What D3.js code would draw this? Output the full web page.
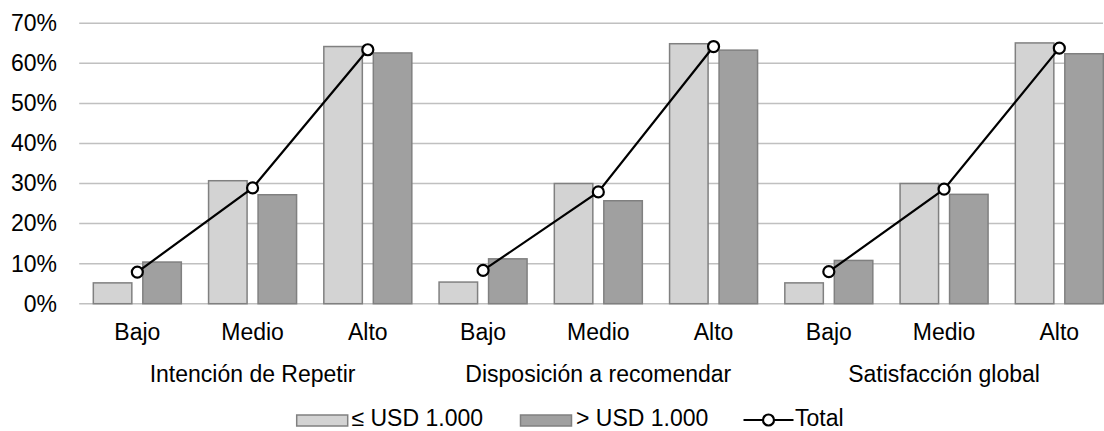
<!DOCTYPE html>
<html>
<head>
<meta charset="utf-8">
<script src="https://cdn.jsdelivr.net/npm/d3@7"></script>
<style>
  body { margin: 0; background: #fff; }
  svg { display: block; font-family: "Liberation Sans", Arial, sans-serif; }
</style>
</head>
<body>
<svg id="chart" width="1104" height="431"></svg>
<script>
const groups = ["Intención de Repetir", "Disposición a recomendar", "Satisfacción global"];
const levels = ["Bajo", "Medio", "Alto"];
const seriesNames = ["≤ USD 1.000", "> USD 1.000", "Total"];
// values in %, per group, per level
const lowSpend  = [[5.2, 30.7, 64.2], [5.4, 30.0, 64.9], [5.2, 30.0, 65.1]];
const highSpend = [[10.4, 27.2, 62.6], [11.2, 25.7, 63.3], [10.8, 27.3, 62.4]];
const totalVals = [[7.9, 28.9, 63.4], [8.3, 27.9, 64.2], [8.0, 28.6, 63.8]];
const yTicks = [0, 10, 20, 30, 40, 50, 60, 70];

const svg = d3.select("#chart");
const fs = 23;
const plotLeft = 79.2, plotRight = 1103;
const step = 115.25;

const cats = [];
groups.forEach((g, gi) => levels.forEach((l, li) => cats.push({ key: gi + "-" + li, gi, li, level: l })));

const x0 = d3.scaleBand()
  .domain(cats.map(c => c.key))
  .range([plotLeft + 0.5, plotLeft + 0.5 + step * cats.length])
  .paddingInner(0.2364)
  .paddingOuter(0.1182);
const x1 = d3.scaleBand()
  .domain([0, 1])
  .range([0, x0.bandwidth()])
  .paddingInner(0.222);
const y = d3.scaleLinear().domain([0, 70]).range([303.7, 23.3]);

// gridlines
svg.append("g").selectAll("line").data(yTicks).join("line")
  .attr("x1", plotLeft).attr("x2", plotRight)
  .attr("y1", d => y(d)).attr("y2", d => y(d))
  .attr("stroke", "#c0c0c0").attr("stroke-width", 1.5);

// y axis labels
const yAxis = d3.axisLeft(y).tickValues(yTicks).tickFormat(d => d + "%").tickSize(0).tickPadding(0);
const ya = svg.append("g").attr("transform", "translate(57,0)").call(yAxis);
ya.select(".domain").remove();
ya.selectAll("text").attr("font-size", fs).attr("fill", "#000")
  .attr("font-family", "'Liberation Sans', Arial, sans-serif");

// bars
const fills = ["#d3d3d3", "#a0a0a0"];
const barData = [];
cats.forEach(c => {
  barData.push({ c, s: 0, v: lowSpend[c.gi][c.li] });
  barData.push({ c, s: 1, v: highSpend[c.gi][c.li] });
});
svg.append("g").selectAll("rect").data(barData).join("rect")
  .attr("x", d => x0(d.c.key) + x1(d.s))
  .attr("width", x1.bandwidth())
  .attr("y", d => y(d.v))
  .attr("height", d => y(0) - y(d.v))
  .attr("fill", d => fills[d.s])
  .attr("stroke", "#808080").attr("stroke-width", 1.5);

// total line per group
const cx = c => x0(c.key) + x0.bandwidth() / 2;
const line = d3.line().x(d => cx(d.c)).y(d => y(d.v));
groups.forEach((g, gi) => {
  const pts = cats.filter(c => c.gi === gi).map(c => ({ c, v: totalVals[gi][c.li] }));
  svg.append("path").datum(pts).attr("d", line)
    .attr("fill", "none").attr("stroke", "#000").attr("stroke-width", 2.2);
  svg.append("g").selectAll("circle").data(pts).join("circle")
    .attr("cx", d => cx(d.c)).attr("cy", d => y(d.v)).attr("r", 5.5)
    .attr("fill", "#fff").attr("stroke", "#000").attr("stroke-width", 2.2);
});

// category labels
svg.append("g").selectAll("text").data(cats).join("text")
  .attr("x", d => cx(d)).attr("y", 340)
  .attr("text-anchor", "middle").attr("font-size", fs).attr("fill", "#000")
  .text(d => d.level);

// group labels
svg.append("g").selectAll("text").data(groups).join("text")
  .attr("x", (g, gi) => cx(cats[gi * 3 + 1])).attr("y", 381.5)
  .attr("text-anchor", "middle").attr("font-size", fs).attr("fill", "#000")
  .text(d => d);

// legend
const lg = svg.append("g");
const legendItems = [
  { type: "rect", fill: fills[0], x: 296.7, tx: 351.5 },
  { type: "rect", fill: fills[1], x: 520.5, tx: 576 },
  { type: "line", x: 743.5, tx: 795 }
];
legendItems.forEach((it, i) => {
  if (it.type === "rect") {
    lg.append("rect").attr("x", it.x).attr("y", 415).attr("width", 51).attr("height", 11)
      .attr("fill", it.fill).attr("stroke", "#808080").attr("stroke-width", 1.5);
  } else {
    lg.append("line").attr("x1", it.x).attr("x2", it.x + 50).attr("y1", 420).attr("y2", 420)
      .attr("stroke", "#000").attr("stroke-width", 2.2);
    lg.append("circle").attr("cx", it.x + 25).attr("cy", 420).attr("r", 5.5)
      .attr("fill", "#fff").attr("stroke", "#000").attr("stroke-width", 2.2);
  }
  lg.append("text").attr("x", it.tx).attr("y", 425.5).attr("font-size", fs).attr("fill", "#000")
    .text(seriesNames[i]);
});
</script>
</body>
</html>
